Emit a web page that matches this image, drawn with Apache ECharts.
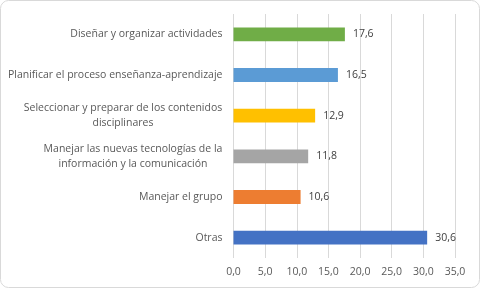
<!DOCTYPE html>
<html><head><meta charset="utf-8">
<script src="https://cdn.jsdelivr.net/npm/echarts@6/dist/echarts.min.js"></script>
<style>html,body{margin:0;padding:0;background:#fff}#c{width:480px;height:288px}</style>
</head><body><div id="c"></div>
<script>
const categories = [
  "Diseñar y organizar actividades",
  "Planificar el proceso enseñanza-aprendizaje",
  "Seleccionar y preparar de los contenidos\ndisciplinares",
  "Manejar las nuevas tecnologías de la\ninformación y la comunicación",
  "Manejar el grupo",
  "Otras"
];
const values = [17.6, 16.5, 12.9, 11.8, 10.6, 30.6];
const colors = ["#70AD47", "#5B9BD5", "#FFC000", "#A5A5A5", "#ED7D31", "#4472C4"];
const xTicks = [0, 5, 10, 15, 20, 25, 30, 35];

const FONT = "'Open Sans', sans-serif";
const FS = 10.5;
const cv = document.createElement('canvas').getContext('2d');
cv.font = FS + "px " + FONT;
function w(s){ return Math.ceil(cv.measureText(s).width); }

const chart = echarts.init(document.getElementById('c'), null, {renderer:'canvas'});
chart.setOption({
  animation: false,
  grid: {left: 233.5, right: 25, top: 14, bottom: 30, containLabel: false},
  graphic: [{type:'rect', shape:{x:0.5, y:0.5, width:479, height:287, r:8}, style:{fill:'none', stroke:'#d9d9d9', lineWidth:1}, silent:true}],
  xAxis: {
    type: 'value', min: xTicks[0], max: xTicks[xTicks.length-1], interval: 5,
    axisLine: {show:false}, axisTick: {show:false},
    splitLine: {lineStyle: {color: '#d9d9d9'}},
    axisLabel: {color:'#595959', fontFamily: FONT, fontSize: FS, margin: 9,
      formatter: v => v.toFixed(1).replace('.', ',')}
  },
  yAxis: {
    type: 'category', data: categories, inverse: true,
    axisLine: {show:false}, axisTick: {show:false},
    axisLabel: {color:'#595959', fontFamily: FONT, fontSize: FS, margin: 11, lineHeight: 15,
      formatter: function(v){
        const lines = v.split('\n');
        if (lines.length === 1) return v;
        const mw = Math.max.apply(null, lines.map(w));
        return lines.map(l => '{c' + mw + '|' + l + '}').join('\n');
      },
      rich: (function(){
        const r = {};
        categories.forEach(c => {
          const lines = c.split('\n');
          if (lines.length > 1) {
            const mw = Math.max.apply(null, lines.map(w));
            r['c' + mw] = {width: mw, align: 'center', color:'#595959', fontFamily: FONT, fontSize: FS, lineHeight: 15};
          }
        });
        return r;
      })()
    }
  },
  series: [{
    type: 'bar',
    data: values.map((v, i) => ({value: v, itemStyle: {color: colors[i]}})),
    barCategoryGap: '66%',
    label: {show: true, position: 'right', distance: 8, color: '#404040', fontFamily: FONT, fontSize: FS,
      formatter: p => p.value.toFixed(1).replace('.', ',')}
  }]
});
</script></body></html>
